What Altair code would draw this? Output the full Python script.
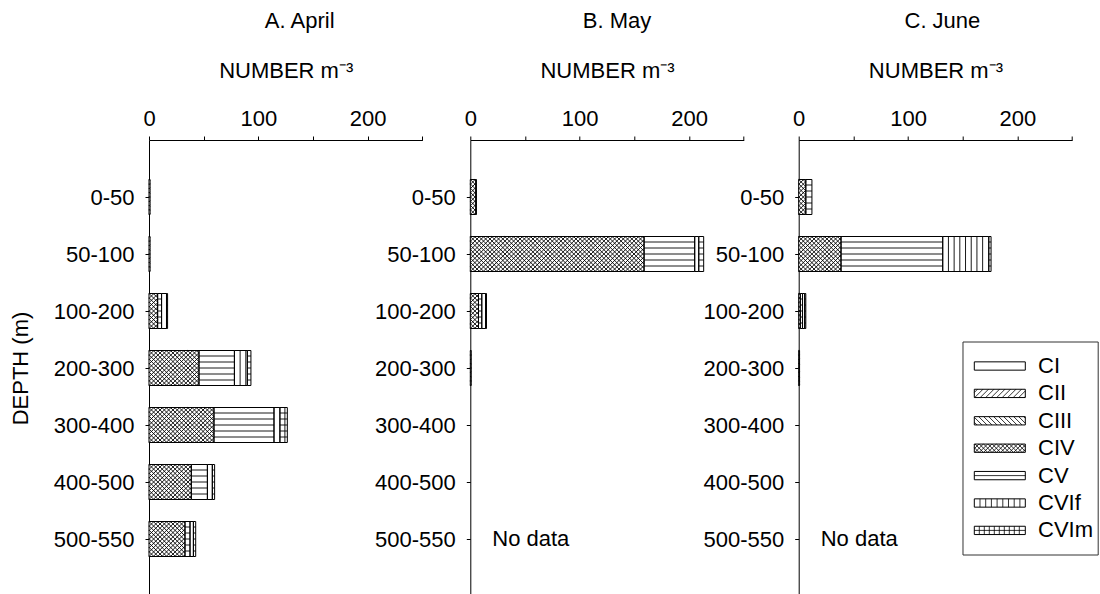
import altair as alt
import numpy as np
import pandas as pd

# ---------------------------------------------------------------- data
MONTHS = ["A. April", "B. May", "C. June"]
DEPTHS = ["0-50", "50-100", "100-200", "200-300", "300-400", "400-500", "500-550"]
STAGES = ["CI", "CII", "CIII", "CIV", "CV", "CVIf", "CVIm"]

# Abundance (number m^-3) per depth layer; columns follow STAGES.
# None marks a layer that was not sampled.
april = [
    [0, 0, 0, 1.0, 0, 0, 0],
    [0, 0, 0, 1.0, 0, 0, 0],
    [0, 0, 0, 7.9, 3.6, 4.5, 1.0],
    [0, 0, 0, 45.7, 32.4, 11.8, 3.3],
    [0, 0, 0, 59.4, 54.9, 5.4, 6.8],
    [0, 0, 0, 38.7, 14.7, 4.5, 2.1],
    [0, 0, 0, 32.9, 4.6, 3.1, 2.1],
]
may = [
    [0, 0, 0, 5.0, 0.6, 0, 0],
    [0, 0, 0, 158.9, 46.3, 3.7, 4.5],
    [0, 0, 0, 7.5, 3.0, 3.5, 0.8],
    [0, 0, 0, 0.8, 0, 0, 0],
    [0, 0, 0, 0, 0, 0, 0],
    [0, 0, 0, 0, 0, 0, 0],
    None,
]
june = [
    [0, 0, 0, 6.5, 5.6, 0, 0],
    [0, 0, 0, 38.7, 93.0, 42.1, 2.1],
    [0, 0, 0, 1.5, 2.0, 2.0, 1.0],
    [0, 0, 0, 0.8, 0, 0, 0],
    [0, 0, 0, 0, 0, 0, 0],
    [0, 0, 0, 0, 0, 0, 0],
    None,
]
TABLES = [april, may, june]
X_TICKS = [0, 50, 100, 150, 200, 250]

# ---------------------------------------------------------------- layout
FONT = "Liberation Sans"
FS = 22
W = 273.4            # plot width (px) for 0..250
H = 456              # plot height (px) for 8 row units
XMAX = 250
NROW = 8
KX = W / XMAX
KY = H / NROW
BAR_PX = 35          # bar thickness in px
NO_DATA_GAP_PX = 22

# hatch style per stage: (kind, spacing in px)
HATCH = {
    "CI": [],
    "CII": [("up", 5.5)],
    "CIII": [("down", 5.0)],
    "CIV": [("up", 4.3), ("down", 4.3)],
    "CV": [("h", 6.0)],
    "CVIf": [("v", 5.7)],
    "CVIm": [("h", 6.0), ("v", 5.0)],
}


def hatch_lines(stage, a, b, c, d):
    """Pixel-space line segments filling rectangle [a,b] x [c,d] with the stage's hatch."""
    out = []
    h = d - c
    for kind, s in HATCH[stage]:
        if kind == "h":
            mid = (c + d) / 2
            k = int((h / 2) // s)
            for j in range(-k, k + 1):
                yy = mid + j * s
                if c + 1 < yy < d - 1:
                    out.append((a, yy, b, yy))
        elif kind == "v":
            xx = a + s
            while xx < b - 1:
                out.append((xx, c, xx, d))
                xx += s
        else:
            t = np.floor((a - h) / s) * s
            while t < b:
                xs, xe = max(a, t), min(b, t + h)
                if xe - xs > 0.3:
                    if kind == "down":
                        out.append((xs, c + (xs - t), xe, c + (xe - t)))
                    else:
                        out.append((xs, d - (xs - t), xe, d - (xe - t)))
                t += s
    return out


def to_rows(lines, sw):
    return [dict(x=x0 / KX, y=y0 / KY, x2=x1 / KX, y2=y1 / KY, sw=sw)
            for x0, y0, x1, y1 in lines]


def panel_frames(table):
    rects, lines, notes = [], [], []
    for i, row in enumerate(table, start=1):
        if row is None:
            notes.append(dict(x=NO_DATA_GAP_PX / KX, y=i, t="No data"))
            continue
        cum = 0.0
        for stage, v in zip(STAGES, row):
            if v <= 0:
                continue
            x0, x1 = cum, cum + v
            cum = x1
            c = i * KY - BAR_PX / 2
            d = i * KY + BAR_PX / 2
            rects.append(dict(x=x0, x2=x1, y=c / KY, y2=d / KY))
            lines += to_rows(hatch_lines(stage, x0 * KX, x1 * KX, c, d), 0.9)
    return (pd.DataFrame(rects),
            pd.DataFrame(lines, columns=["x", "y", "x2", "y2", "sw"]),
            pd.DataFrame(notes, columns=["x", "y", "t"]))


# legend layout, px relative to the last panel's plot origin
LEG_BOX = (164.3, 202.0, 299.5, 415.0)
SW_X0, SW_X1, SW_H = 175.6, 226.6, 8.3
SW_Y0, SW_STEP = 226.0, 27.4
LEG_TEXT_X = 239.3


def legend_frames():
    box = pd.DataFrame([dict(x=LEG_BOX[0] / KX, x2=LEG_BOX[2] / KX,
                             y=LEG_BOX[1] / KY, y2=LEG_BOX[3] / KY)])
    sw, lines, labels = [], [], []
    for k, stage in enumerate(STAGES):
        cy = SW_Y0 + k * SW_STEP
        c, d = cy - SW_H / 2, cy + SW_H / 2
        sw.append(dict(x=SW_X0 / KX, x2=SW_X1 / KX, y=c / KY, y2=d / KY))
        lines += to_rows(hatch_lines(stage, SW_X0, SW_X1, c, d), 0.8)
        labels.append(dict(x=LEG_TEXT_X / KX, y=cy / KY, t=stage))
    return (box, pd.DataFrame(sw),
            pd.DataFrame(lines, columns=["x", "y", "x2", "y2", "sw"]),
            pd.DataFrame(labels))


X_SCALE = alt.Scale(domain=[0, XMAX], nice=False, zero=False)
Y_SCALE = alt.Scale(domain=[0, NROW], reverse=True, nice=False, zero=False)
LABEL_EXPR = "[" + ",".join(f"'{d}'" for d in DEPTHS) + "][datum.value - 1]"


def axes(y_title):
    xa = alt.Axis(orient="top", title="NUMBER m⁻³", values=X_TICKS,
                  labelExpr="datum.value % 100 === 0 ? datum.label : ''",
                  tickSize=4, labelPadding=6, titlePadding=25, grid=False,
                  labelOverlap=False, labelFlush=False)
    ya = alt.Axis(title=y_title, values=list(range(1, len(DEPTHS) + 1)),
                  labelExpr=LABEL_EXPR, tickSize=4, labelPadding=11,
                  titlePadding=21, grid=False, labelOverlap=False)
    return xa, ya


def enc(xa, ya, two=True):
    e = dict(x=alt.X("x:Q", scale=X_SCALE, axis=xa),
             y=alt.Y("y:Q", scale=Y_SCALE, axis=ya))
    if two:
        e["x2"] = "x2:Q"
        e["y2"] = "y2:Q"
    return e


def panel(idx, y_title, title_dx, with_legend=False):
    rects, lines, notes = panel_frames(TABLES[idx])
    xa, ya = axes(y_title)
    layers = [
        alt.Chart(rects).mark_rect(fill="white", strokeWidth=0).encode(**enc(xa, ya)),
        alt.Chart(lines).mark_rule(color="black").encode(
            strokeWidth=alt.StrokeWidth("sw:Q", scale=None), **enc(xa, ya)),
        alt.Chart(rects).mark_rect(fillOpacity=0, stroke="black", strokeWidth=1).encode(**enc(xa, ya)),
    ]
    if len(notes):
        layers.append(alt.Chart(notes).mark_text(align="left", baseline="middle", font=FONT,
                                                 fontSize=FS, color="black").encode(
            text="t:N", **enc(xa, ya, two=False)))
    if with_legend:
        box, sw, sl, lab = legend_frames()
        layers += [
            alt.Chart(box).mark_rect(fill="white", stroke="#333333", strokeWidth=1).encode(**enc(xa, ya)),
            alt.Chart(sw).mark_rect(fill="white", strokeWidth=0).encode(**enc(xa, ya)),
            alt.Chart(sl).mark_rule(color="black").encode(
                strokeWidth=alt.StrokeWidth("sw:Q", scale=None), **enc(xa, ya)),
            alt.Chart(sw).mark_rect(fillOpacity=0, stroke="black", strokeWidth=1).encode(**enc(xa, ya)),
            alt.Chart(lab).mark_text(align="left", baseline="middle", font=FONT,
                                     fontSize=FS, color="black").encode(
                text="t:N", **enc(xa, ya, two=False)),
        ]
    return alt.layer(*layers).properties(
        width=W, height=H,
        title=alt.TitleParams(MONTHS[idx], dx=title_dx, offset=26, anchor="middle"),
    )


pA = panel(0, "DEPTH (m)", 14)
pB = panel(1, None, 10)
pC = panel(2, None, 7, with_legend=True)

inner = alt.hconcat(pB, pC, spacing=54.4, bounds="flush")
chart = alt.hconcat(pA, inner, spacing=47.3, bounds="flush").properties(
    padding={"left": 9, "top": 10, "right": 0, "bottom": 0},
).configure_view(stroke=None).configure_axis(
    labelFont=FONT, labelFontSize=FS, labelColor="black",
    titleFont=FONT, titleFontSize=FS, titleFontWeight="normal", titleColor="black",
    domainColor="black", tickColor="black", domainWidth=1, tickWidth=1,
).configure_title(font=FONT, fontSize=FS, fontWeight="normal", color="black")

chart.save("out.html", embed_options={"renderer": "svg", "actions": False})
